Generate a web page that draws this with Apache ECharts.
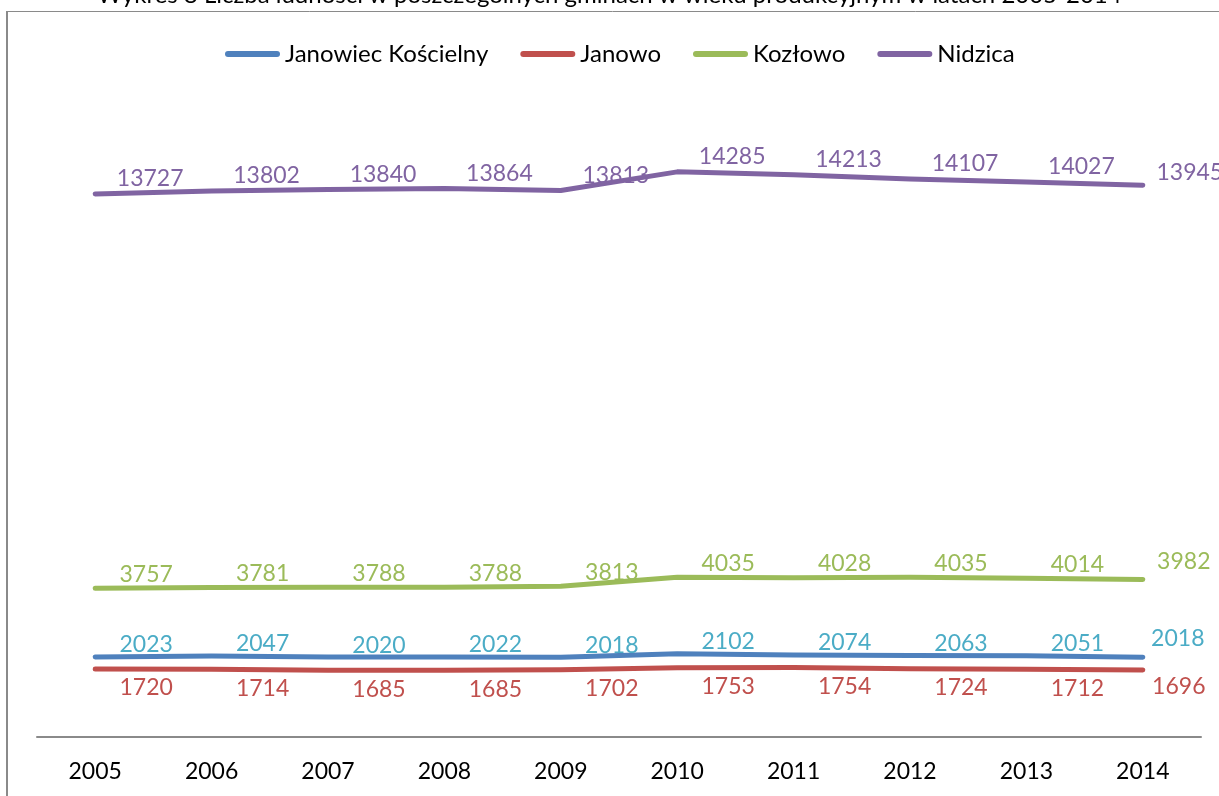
<!DOCTYPE html>
<html>
<head>
<meta charset="utf-8">
<script src="https://cdn.jsdelivr.net/npm/echarts@6/dist/echarts.min.js"></script>
<style>
  html, body { margin: 0; padding: 0; background: #fff; }
  #chart { width: 1219px; height: 796px; }
</style>
</head>
<body>
<div id="chart"></div>
<script>
// dane
const years = ['2005', '2006', '2007', '2008', '2009', '2010', '2011', '2012', '2013', '2014'];
const janowiecKoscielny = [2023, 2047, 2020, 2022, 2018, 2102, 2074, 2063, 2051, 2018];
const janowo = [1720, 1714, 1685, 1685, 1702, 1753, 1754, 1724, 1712, 1696];
const kozlowo = [3757, 3781, 3788, 3788, 3813, 4035, 4028, 4035, 4014, 3982];
const nidzica = [13727, 13802, 13840, 13864, 13813, 14285, 14213, 14107, 14027, 13945];

const FONT = 'Lato';

const chart = echarts.init(document.getElementById('chart'));

// style serii: kolor linii, kolor etykiet, przesuniecie etykiet (zwykle / ostatnia)
const seriesDefs = [
    { name: 'Janowiec Kościelny', values: janowiecKoscielny, color: '#4f81bd', labelColor: '#4bacc6', pos: [51, -12], lastPos: [35, -19] },
    { name: 'Janowo', values: janowo, color: '#c0504d', labelColor: '#c0504d', pos: [51, 19], lastPos: [36, 17] },
    { name: 'Kozłowo', values: kozlowo, color: '#9bbb59', labelColor: '#9bbb59', pos: [51, -14], lastPos: [41, -18] },
    { name: 'Nidzica', values: nidzica, color: '#8064a2', labelColor: '#8064a2', pos: [55, -15], lastPos: [47, -13] }
];

const legendIcon = 'path://M3,0 H52 A3,3 0 0 1 52,6 H3 A3,3 0 0 1 3,0 Z';

const option = {
    animation: false,
    textStyle: { fontFamily: FONT },
    graphic: [
        {
            type: 'text',
            left: 'center',
            top: -17,
            style: {
                text: 'Wykres 8 Liczba ludności w poszczególnych gminach w wieku produkcyjnym w latach 2005-2014',
                font: '24px ' + FONT,
                fill: '#000'
            }
        },
        {
            type: 'line',
            shape: { x1: 7, y1: 11, x2: 7, y2: 800 },
            style: { stroke: '#8a8a8a', lineWidth: 2 }
        },
        {
            type: 'line',
            shape: { x1: 6, y1: 11.5, x2: 1219, y2: 11.5 },
            style: { stroke: '#8a8a8a', lineWidth: 1 }
        }
    ],
    legend: {
        left: 220,
        top: 37,
        icon: legendIcon,
        itemWidth: 55,
        itemHeight: 6,
        itemGap: 32,
        textStyle: { fontSize: 24, color: '#000', fontFamily: FONT },
        data: seriesDefs.map(s => s.name)
    },
    grid: {
        left: 37,
        right: 18,
        top: 104,
        bottom: 59
    },
    xAxis: {
        type: 'category',
        data: years,
        boundaryGap: true,
        axisLine: { lineStyle: { color: '#8a8a8a', width: 2 } },
        axisTick: { show: false },
        axisLabel: { color: '#000', fontSize: 23, margin: 23, fontFamily: FONT }
    },
    yAxis: {
        type: 'value',
        min: 0,
        max: 16000,
        show: false,
        splitLine: { show: false }
    },
    series: seriesDefs.map(s => ({
        name: s.name,
        type: 'line',
        symbol: 'circle',
        symbolSize: 0,
        color: s.color,
        lineStyle: { color: s.color, width: 5, cap: 'round', join: 'round' },
        itemStyle: { color: s.color },
        label: {
            show: true,
            position: s.pos,
            align: 'center',
            verticalAlign: 'middle',
            color: s.labelColor,
            fontSize: 23,
            fontFamily: FONT
        },
        data: s.values.map((v, i) => i === s.values.length - 1
            ? { value: v, label: { position: s.lastPos } }
            : v)
    }))
};

chart.setOption(option);
</script>
</body>
</html>
